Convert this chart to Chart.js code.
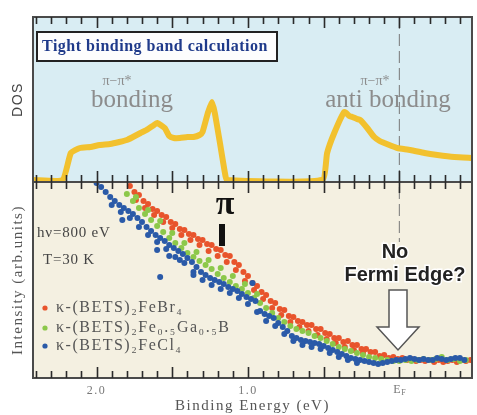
<!DOCTYPE html>
<html lang="en">
<head>
<meta charset="utf-8"/>
<title>BETS salts: DOS and valence band spectra</title>
<script src="https://cdn.jsdelivr.net/npm/chart.js@4.4.1/dist/chart.umd.min.js"></script>
<style>
  body { margin: 0; background: #fff; }
  #wrap { width: 477px; height: 415px; }
</style>
</head>
<body>
<div id="wrap"><canvas id="myChart" width="477" height="415"></canvas></div>
<script>
// ---- data ----
// binding energy in eV (0 = E_F), intensities in arbitrary units

// tight binding DOS (top panel)
const dosEnergy = [2.42, 2.225, 2.17, 2.11, 2.04, 1.98, 1.91, 1.85, 1.80, 1.76, 1.71, 1.67, 1.63, 1.60, 1.55, 1.52, 1.49, 1.45, 1.40, 1.36, 1.32, 1.30, 1.265, 1.238, 1.219, 1.185, 1.152, 1.139,
                   0.51, 0.477, 0.43, 0.364, 0.33, 0.311, 0.28, 0.258, 0.212, 0.166, 0.13, 0.099, 0.05, 0.013, -0.073, -0.166, -0.252, -0.364, -0.48];
const dosValue  = [0, 0, 27, 32, 33, 35, 36, 38, 40, 43, 47, 50, 54, 57, 52, 44, 42, 42, 43, 43, 45, 48, 67, 78, 67, 37, 7, 0,
                   0, 27, 47, 68, 64, 63, 61, 60, 52, 43, 39, 37, 34, 32, 30, 27, 25, 23, 22];

// κ-(BETS)2FeBr4
const feBrEnergy = [1.78, 1.75, 1.72, 1.69, 1.66, 1.63, 1.60, 1.57, 1.54, 1.51, 1.48, 1.45, 1.42, 1.39, 1.36, 1.33, 1.30, 1.27, 1.24, 1.21,
                    1.18, 1.15, 1.12, 1.09, 1.06, 1.03, 1.00, 0.97, 0.94, 0.91, 0.88, 0.85, 0.82, 0.79, 0.76, 0.73, 0.70, 0.67, 0.64, 0.61,
                    0.58, 0.55, 0.52, 0.49, 0.46, 0.43, 0.40, 0.37, 0.34, 0.31, 0.28, 0.25, 0.22, 0.19, 0.16, 0.13, 0.10, 0.07, 0.04, 0.01,
                    -0.02, -0.05, -0.08, -0.11, -0.14, -0.17, -0.20, -0.23, -0.26, -0.29, -0.32, -0.35, -0.38, -0.41, -0.44, -0.47,
                    1.74, 1.68, 1.62, 1.56, 1.50, 1.44, 1.38, 1.32, 1.26, 1.20, 1.14, 1.08, 1.02, 0.96, 0.90, 0.84, 0.78, 0.72, 0.66, 0.60,
                    0.54, 0.48, 0.42, 0.36, 0.30, 0.24];
const feBrInt    = [192, 186, 183, 177, 174, 169, 167, 163, 161, 156, 154, 149, 148, 144, 143, 139, 138, 134, 133, 129,
                    128, 123, 122, 116, 113, 106, 102, 95, 92, 86, 83, 77, 75, 69, 68, 62, 61, 57, 56, 53,
                    53, 49, 49, 45, 44, 40, 40, 36, 37, 33, 33, 29, 29, 26, 26, 22, 23, 20, 21, 19,
                    20, 18, 19, 17, 18, 17, 18, 16, 18, 16, 17, 18, 16, 18, 17, 18,
                    178, 170, 163, 156, 150, 143, 138, 133, 127, 122, 116, 108, 97, 88, 79, 70, 63, 56, 51, 47,
                    43, 39, 35, 31, 28, 25];

// κ-(BETS)2Fe0.5Ga0.5B
const feGaEnergy = [1.80, 1.76, 1.72, 1.68, 1.64, 1.60, 1.56, 1.52, 1.48, 1.44, 1.40, 1.36, 1.32, 1.28, 1.24, 1.20, 1.16, 1.12, 1.08, 1.04,
                    1.00, 0.96, 0.92, 0.88, 0.84, 0.80, 0.76, 0.72, 0.68, 0.64, 0.60, 0.56, 0.52, 0.48, 0.44, 0.40, 0.36, 0.32, 0.28, 0.24,
                    0.20, 0.16, 0.12, 0.08, 0.04, 0.00, -0.04, -0.08, -0.12, -0.16, -0.20, -0.24, -0.28, -0.32, -0.36, -0.40, -0.44,
                    1.74, 1.66, 1.58, 1.50, 1.42, 1.34, 1.26, 1.18, 1.10, 1.02, 0.94];
const feGaInt    = [184, 177, 170, 164, 158, 152, 146, 140, 135, 130, 125, 121, 117, 113, 109, 104, 100, 96, 92, 89,
                    85, 80, 75, 70, 65, 60, 56, 52, 49, 47, 45, 42, 40, 37, 34, 31, 29, 27, 25, 23,
                    21, 20, 19, 18, 17, 17, 18, 17, 18, 19, 18, 19, 21, 18, 19, 17, 18,
                    181, 168, 157, 145, 135, 126, 118, 110, 102, 94, 84];

// κ-(BETS)2FeCl4
const feClEnergy = [2.00, 1.97, 1.94, 1.91, 1.88, 1.85, 1.82, 1.79, 1.76, 1.73, 1.70, 1.67, 1.64, 1.61, 1.58, 1.55, 1.52, 1.49, 1.46, 1.43,
                    1.40, 1.37, 1.34, 1.31, 1.28, 1.25, 1.22, 1.19, 1.16, 1.13, 1.10, 1.07, 1.04, 1.01, 0.98, 0.95, 0.92, 0.89, 0.86, 0.83,
                    0.80, 0.77, 0.74, 0.71, 0.68, 0.65, 0.62, 0.59, 0.56, 0.53, 0.50, 0.47, 0.44, 0.41, 0.38, 0.35, 0.32, 0.29, 0.26, 0.23,
                    0.20, 0.17, 0.14, 0.11, 0.08, 0.05, 0.02, -0.01, -0.04, -0.07, -0.10, -0.13, -0.16, -0.19, -0.22, -0.25, -0.28, -0.31,
                    -0.34, -0.37, -0.40, -0.43,
                    1.90, 1.84, 1.78, 1.72, 1.66, 1.60, 1.54, 1.48, 1.42, 1.36, 1.30, 1.24, 1.18, 1.12, 1.06, 1.00, 0.94, 0.88, 0.82, 0.76,
                    0.70, 0.64, 0.58, 0.52, 0.46, 0.40, 0.34, 0.28,
                    1.83, 1.60, 1.45, 1.58, 0.97, 1.52, 1.36];
const feClInt    = [195, 191, 186, 181, 177, 173, 170, 167, 164, 160, 156, 151, 147, 143, 140, 137, 133, 130, 127, 124,
                    120, 116, 111, 106, 103, 100, 98, 96, 94, 91, 89, 87, 84, 81, 79, 77, 67, 64, 62, 60,
                    55, 51, 47, 42, 40, 38, 37, 36, 35, 34, 32, 30, 28, 26, 24, 22, 20, 19, 18, 17,
                    16, 15, 14, 15, 16, 17, 18, 18, 19, 20, 19, 18, 19, 18, 18, 20, 19, 18,
                    19, 20, 20, 18,
                    173, 166, 160, 151, 143, 136, 129, 121, 115, 106, 98, 93, 89, 85, 80, 74, 66, 57, 52, 44,
                    37, 33, 31, 29, 25, 21, 18, 15,
                    158, 128, 118, 101, 95, 122, 103];

const seriesNames  = ['κ-(BETS)₂FeBr₄', 'κ-(BETS)₂Fe₀.₅Ga₀.₅B', 'κ-(BETS)₂FeCl₄'];
const seriesColors = ['#e8542c', '#8cc84a', '#2a5aa8'];

const majorTicks = [2.0, 1.0, 0];
const tickLabels = ['2.0', '1.0', ''];   // E_F is drawn with a subscript below

function pts(xs, ys) {
  return xs.map((v, i) => ({ x: v, y: ys[i] }));
}

const serif = 'Liberation Serif';
const sans = 'Liberation Sans';

// the original lettering is set rather wide
const spacing = {
  id: 'spacing',
  beforeDraw(chart) { chart.ctx.letterSpacing = '1.5px'; },
  afterDraw(chart) { chart.ctx.letterSpacing = '0px'; }
};

const decor = {
  id: 'decor',
  beforeDatasetsDraw(chart) {
    const { ctx, chartArea: a, scales: { x, yD, yI } } = chart;
    ctx.save();
    ctx.fillStyle = '#d9edf3';
    ctx.fillRect(a.left, yD.top, a.right - a.left, yD.bottom - yD.top);
    ctx.fillStyle = '#f4f0e1';
    ctx.fillRect(a.left, yI.top, a.right - a.left, yI.bottom - yI.top);
    // Fermi level
    const xf = x.getPixelForValue(0);
    ctx.strokeStyle = '#777';
    ctx.lineWidth = 1;
    ctx.setLineDash([12, 5]);
    ctx.beginPath();
    ctx.moveTo(xf, a.top);
    ctx.lineTo(xf, yI.top + 60);
    ctx.stroke();
    ctx.restore();
  },
  afterDatasetsDraw(chart) {
    const { ctx, chartArea: a, scales: { x, yD, yI } } = chart;
    ctx.save();
    // frame and panel divider
    ctx.strokeStyle = '#4a4a4a';
    ctx.lineWidth = 2;
    ctx.strokeRect(a.left, a.top, a.right - a.left, a.bottom - a.top);
    ctx.beginPath();
    ctx.moveTo(a.left, yD.bottom);
    ctx.lineTo(a.right, yD.bottom);
    ctx.stroke();

    // inward ticks every 0.1 eV
    ctx.lineWidth = 1.6;
    ctx.strokeStyle = '#2a2a2a';
    ctx.beginPath();
    for (let k = -4; k <= 24; k++) {
      const px = Math.round(x.getPixelForValue(k / 10)) + 0.5;
      if (px < a.left + 2 || px > a.right - 2) continue;
      const len = k % 5 === 0 ? 11 : 7;
      ctx.moveTo(px, a.top); ctx.lineTo(px, a.top + len);
      ctx.moveTo(px, yD.bottom - len); ctx.lineTo(px, yD.bottom + len);
      ctx.moveTo(px, a.bottom); ctx.lineTo(px, a.bottom - len);
    }
    ctx.stroke();

    // E_F tick label
    const xf = x.getPixelForValue(0);
    ctx.letterSpacing = '0px';
    ctx.fillStyle = '#777';
    ctx.textBaseline = 'middle';
    ctx.textAlign = 'left';
    ctx.font = '12px ' + serif;
    ctx.fillText('E', xf - 6, a.bottom + 12);
    ctx.font = '8px ' + serif;
    ctx.fillText('F', xf + 2, a.bottom + 15);

    // calculation label box
    ctx.fillStyle = '#fdfdfd';
    ctx.fillRect(37, a.top + 15, 240, 29);
    ctx.strokeStyle = '#222';
    ctx.lineWidth = 2;
    ctx.strokeRect(37, a.top + 15, 240, 29);
    ctx.fillStyle = '#1f3a8a';
    ctx.font = 'bold 16px ' + serif;
    ctx.letterSpacing = '0.5px';
    ctx.fillText('Tight binding band calculation', 42, a.top + 30);

    // band annotations
    ctx.letterSpacing = '0px';
    ctx.fillStyle = '#8c8c8c';
    ctx.textAlign = 'center';
    ctx.font = '14px ' + serif;
    ctx.fillText('π−π*', 117, 81);
    ctx.fillText('π−π*', 375, 81);
    ctx.font = '25px ' + serif;
    ctx.fillText('bonding', 132, 100);
    ctx.fillText('anti bonding', 388, 100);

    // π marker
    ctx.fillStyle = '#111';
    ctx.font = 'bold 34px ' + serif;
    ctx.fillText('π', 225, 205);
    ctx.fillRect(219, 224, 6, 22);

    // measurement conditions
    ctx.fillStyle = '#444';
    ctx.textAlign = 'left';
    ctx.font = '15px ' + serif;
    ctx.letterSpacing = '0.8px';
    ctx.fillText('hν=800 eV', 37, 233);
    ctx.fillText('T=30 K', 43, 260);

    // legend
    const ly = [308, 328, 346];
    ctx.letterSpacing = '1.5px';
    seriesNames.forEach((n, i) => {
      ctx.fillStyle = seriesColors[i];
      ctx.beginPath();
      ctx.arc(45, ly[i], 2.6, 0, Math.PI * 2);
      ctx.fill();
      ctx.fillStyle = '#555';
      ctx.font = '16px ' + serif;
      ctx.fillText(n, 56, ly[i]);
    });

    // No Fermi Edge? arrow
    ctx.letterSpacing = '0px';
    ctx.textAlign = 'center';
    ctx.font = 'bold 20px ' + sans;
    ctx.lineWidth = 3;
    ctx.strokeStyle = '#fff';
    ctx.strokeText('No', 395, 252);
    ctx.strokeText('Fermi Edge?', 405, 275);
    ctx.fillStyle = '#222';
    ctx.fillText('No', 395, 252);
    ctx.fillText('Fermi Edge?', 405, 275);
    ctx.beginPath();
    ctx.moveTo(389, 290); ctx.lineTo(407, 290); ctx.lineTo(407, 327); ctx.lineTo(419, 327);
    ctx.lineTo(398, 350); ctx.lineTo(377, 327); ctx.lineTo(389, 327); ctx.closePath();
    ctx.fillStyle = '#fff';
    ctx.fill();
    ctx.strokeStyle = '#555';
    ctx.lineWidth = 1.5;
    ctx.stroke();
    ctx.restore();
    ctx.letterSpacing = '1.5px';
  }
};

const scatterSet = (i, data) => ({
  type: 'scatter',
  label: seriesNames[i],
  data: data,
  yAxisID: 'yI',
  backgroundColor: seriesColors[i],
  borderWidth: 0,
  pointRadius: 3,
  pointHoverRadius: 3
});

new Chart(document.getElementById('myChart'), {
  type: 'scatter',
  data: {
    datasets: [
      {
        label: 'DOS',
        data: pts(dosEnergy, dosValue),
        yAxisID: 'yD',
        showLine: true,
        borderColor: '#f2c12e',
        borderWidth: 6,
        pointRadius: 0,
        tension: 0.15
      },
      scatterSet(2, pts(feClEnergy, feClInt)),
      scatterSet(1, pts(feGaEnergy, feGaInt)),
      scatterSet(0, pts(feBrEnergy, feBrInt))
    ]
  },
  options: {
    responsive: false,
    animation: false,
    layout: { padding: { top: 17, right: 5, left: 0, bottom: 0 } },
    plugins: { legend: { display: false }, tooltip: { enabled: false } },
    scales: {
      x: {
        type: 'linear',
        reverse: true,
        min: -0.48,
        max: 2.42,
        grid: { display: false, drawTicks: false },
        border: { display: false },
        afterBuildTicks: s => { s.ticks = majorTicks.map(v => ({ value: v })); },
        afterFit: s => { s.height = 37; },
        ticks: {
          padding: 6,
          color: '#777',
          font: { family: serif, size: 12 },
          callback: v => tickLabels[majorTicks.indexOf(v)]
        },
        title: {
          display: true,
          text: 'Binding Energy (eV)',
          color: '#555',
          font: { family: serif, size: 15 },
          padding: { top: 0, bottom: 0 }
        }
      },
      yI: {
        type: 'linear',
        position: 'left',
        stack: 'v',
        stackWeight: 196,
        min: 0,
        max: 196,
        grid: { display: false },
        border: { display: false },
        ticks: { display: false },
        afterFit: s => { s.width = 33; },
        title: {
          display: true,
          text: 'Intensity (arb.units)',
          color: '#555',
          font: { family: serif, size: 15 },
          padding: { top: 9, bottom: 0 }
        }
      },
      yD: {
        type: 'linear',
        position: 'left',
        stack: 'v',
        stackWeight: 165,
        min: -2,
        max: 163,
        grid: { display: false },
        border: { display: false },
        ticks: { display: false },
        afterFit: s => { s.width = 33; },
        title: {
          display: true,
          text: 'DOS',
          color: '#444',
          font: { family: sans, size: 14 },
          padding: { top: 10, bottom: 0 }
        }
      }
    }
  },
  plugins: [spacing, decor]
});
</script>
</body>
</html>
